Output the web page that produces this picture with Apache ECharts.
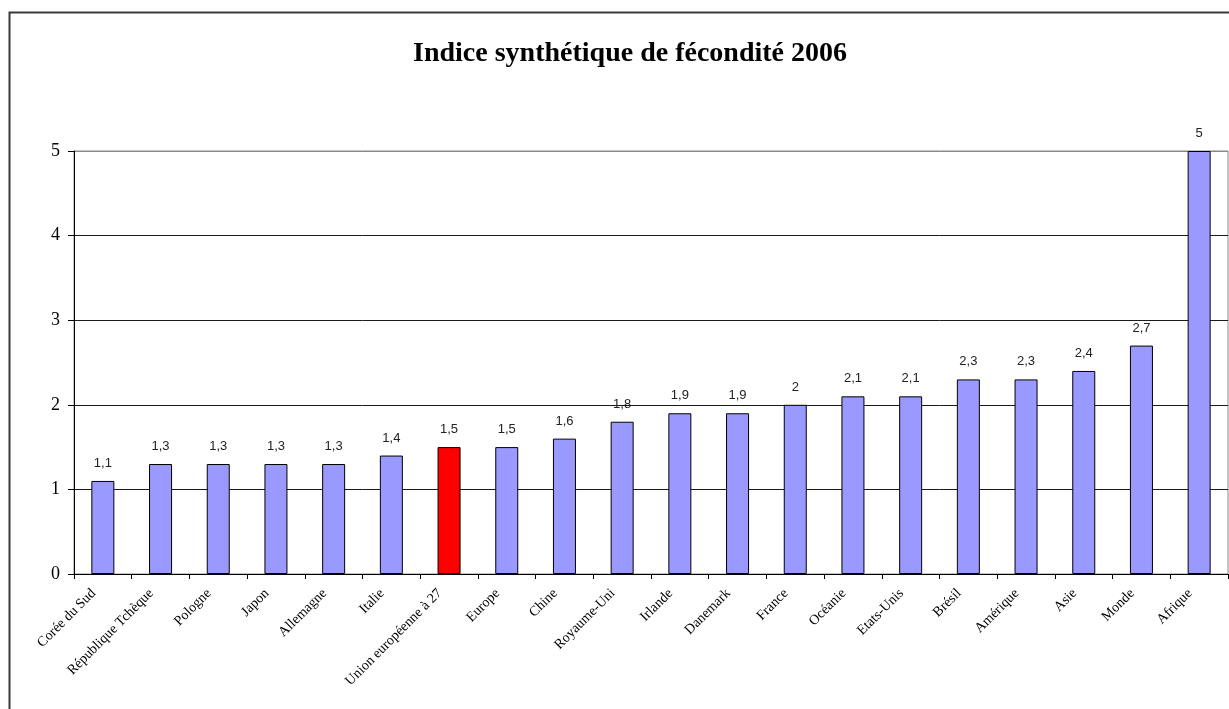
<!DOCTYPE html>
<html>
<head>
<meta charset="utf-8">
<script src="https://cdn.jsdelivr.net/npm/echarts@6/dist/echarts.min.js"></script>
<style>
  html, body { margin: 0; padding: 0; background: #fff; }
  #chart { width: 1229px; height: 709px; }
</style>
</head>
<body>
<div id="chart"></div>
<script>
// Total fertility rate, 2006
const categories = [
  'Corée du Sud', 'République Tchèque', 'Pologne', 'Japon', 'Allemagne',
  'Italie', 'Union européenne à 27', 'Europe', 'Chine', 'Royaume-Uni',
  'Irlande', 'Danemark', 'France', 'Océanie', 'Etats-Unis',
  'Brésil', 'Amérique', 'Asie', 'Monde', 'Afrique'
];
const values = [
  1.1, 1.3, 1.3, 1.3, 1.3,
  1.4, 1.5, 1.5, 1.6, 1.8,
  1.9, 1.9, 2, 2.1, 2.1,
  2.3, 2.3, 2.4, 2.7, 5
];
const highlighted = 'Union européenne à 27';
const yTicks = [0, 1, 2, 3, 4, 5];

const chart = echarts.init(document.getElementById('chart'));

chart.setOption({
  animation: false,
  backgroundColor: '#fff',
  title: {
    text: 'Indice synthétique de fécondité 2006',
    left: 625,
    textAlign: 'center',
    top: 35,
    textStyle: {
      fontFamily: '"Liberation Serif", "Times New Roman", serif',
      fontWeight: 'bold',
      fontSize: 28,
      color: '#000'
    }
  },
  graphic: [{
    type: 'rect',
    shape: { x: 9.5, y: 12.5, width: 1300, height: 800 },
    style: { fill: 'none', stroke: '#3a3a3a', lineWidth: 2 },
    silent: true,
    z: 100
  }],
  grid: {
    left: 74,
    top: 151,
    right: 1,
    bottom: 135,
    show: true,
    borderColor: '#888',
    borderWidth: 1
  },
  xAxis: {
    type: 'category',
    data: categories,
    boundaryGap: true,
    axisLine: { lineStyle: { color: '#000', width: 1 } },
    axisTick: { show: true, length: 5, lineStyle: { color: '#000' } },
    axisLabel: {
      rotate: 45,
      interval: 0,
      margin: 8,
      padding: [0, 13, 0, 0],
      fontFamily: '"Liberation Serif", "Times New Roman", serif',
      fontSize: 14,
      color: '#000'
    }
  },
  yAxis: {
    type: 'value',
    min: yTicks[0],
    max: yTicks[yTicks.length - 1],
    interval: 1,
    axisLine: { show: true, lineStyle: { color: '#000', width: 1 } },
    axisTick: { show: true, length: 6, lineStyle: { color: '#000' } },
    axisLabel: {
      margin: 14,
      fontFamily: '"Liberation Serif", "Times New Roman", serif',
      fontSize: 18,
      color: '#000'
    },
    splitLine: {
      show: true,
      lineStyle: { color: ['#1a1a1a', '#1a1a1a', '#1a1a1a', '#1a1a1a', '#1a1a1a', '#888'], width: 1 }
    }
  },
  series: [{
    type: 'bar',
    data: values.map((v, i) => ({
      value: v,
      itemStyle: { color: categories[i] === highlighted ? '#ff0000' : '#9999ff' }
    })),
    barWidth: 23,
    itemStyle: { borderColor: '#000', borderWidth: 1 },
    label: {
      show: true,
      position: 'top',
      distance: 11,
      fontFamily: '"Liberation Sans", Arial, sans-serif',
      fontSize: 13,
      color: '#222',
      formatter: p => String(p.value).replace('.', ',')
    }
  }]
});
</script>
</body>
</html>
